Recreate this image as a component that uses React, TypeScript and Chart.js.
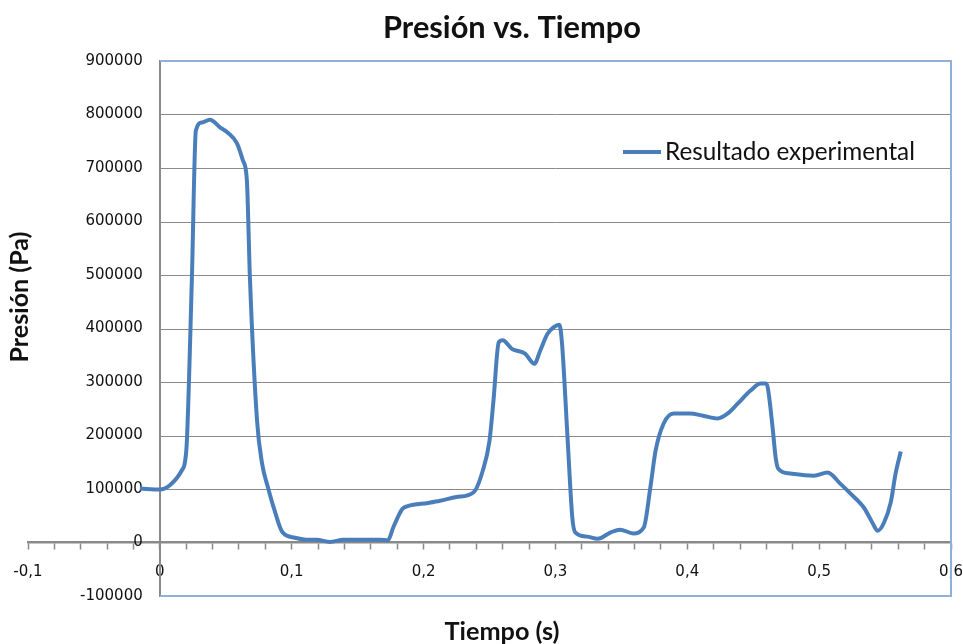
import React, { useEffect, useRef } from 'react';
import { Chart, registerables } from 'chart.js';

Chart.register(...registerables);

// ---- data ----
const timeS = [
  -0.0152, 0, 0.008, 0.0167, 0.019, 0.0205, 0.0243, 0.0273, 0.0319, 0.038,
  0.0456, 0.0516, 0.0585, 0.063, 0.066, 0.0683, 0.0737, 0.0775, 0.082, 0.087,
  0.093, 0.1025, 0.111, 0.119, 0.129, 0.139, 0.167, 0.173, 0.177, 0.184,
  0.188, 0.2035, 0.2126, 0.225, 0.238, 0.245, 0.25, 0.253, 0.257, 0.26,
  0.267, 0.277, 0.284, 0.2885, 0.294, 0.2985, 0.303, 0.305, 0.309, 0.3128,
  0.315, 0.324, 0.332, 0.342, 0.349, 0.359, 0.367, 0.372, 0.376, 0.382,
  0.3897, 0.402, 0.412, 0.423, 0.4305, 0.438, 0.448, 0.4556, 0.4594, 0.461,
  0.4647, 0.467, 0.469, 0.478, 0.496, 0.5065, 0.516, 0.524, 0.534, 0.5406,
  0.5444, 0.549, 0.5543, 0.558, 0.5619,
];
const pressurePa = [
  101000, 99000, 108000, 135000, 150000, 190000, 495000, 770000, 785000, 790000,
  776000, 766000, 746000, 714000, 677000, 495000, 228000, 148000, 103000, 60000,
  19000, 9000, 5000, 5000, 1000, 5000, 5000, 4000, 28000, 63000,
  68000, 74000, 78000, 85000, 94000, 135000, 190000, 265000, 374000, 378000,
  362000, 353000, 334000, 359000, 390000, 402000, 407000, 372000, 204000, 47000,
  19000, 11000, 7000, 19000, 24000, 17000, 28000, 103000, 172000, 222000,
  241000, 241000, 237000, 232000, 241000, 259000, 284000, 297000, 297000, 290000,
  215000, 159000, 138000, 129000, 125000, 131000, 110000, 91000, 65000, 36000,
  22000, 36000, 75000, 129000, 170000,
];

const seriesLabel = 'Resultado experimental';
const chartTitle = 'Presión vs. Tiempo';
const xAxisTitle = 'Tiempo (s)';
const yAxisTitle = 'Presión (Pa)';

const xRange = [-0.1, 0.6];
const yRange = [-100000, 900000];
const xMinorStep = 0.02;
const xLabelStep = 0.1;
const yStep = 100000;

// ---- styles ----
const LINE_BLUE = '#4a7ebb';
const GRID = '#8a8a8a';
const AXIS = '#8a8a8a';
const FRAME = '#8eb0d9';
const TEXT = '#111111';
const TITLE_FONT = 'Lato, "Open Sans", sans-serif';
const TICK_FONT = '"DejaVu Sans", Verdana, sans-serif';
// value-axis labels sit ~17px left of the axis (expressed in x data units)
const Y_LABEL_X = -0.013;

function fitFont(ctx: CanvasRenderingContext2D, text: string, weight: string, family: string, width: number) {
  ctx.font = `${weight} 100px ${family}`;
  const w = ctx.measureText(text).width;
  const size = (100 * width) / w;
  return `${weight} ${size.toFixed(2)}px ${family}`;
}

const excelFrame = {
  id: 'excelFrame',
  beforeDatasetsDraw(chart: any) {
    const { ctx, chartArea, scales } = chart;
    const x = scales.x;
    const y = scales.y;
    const left = Math.round(x.getPixelForValue(0));
    ctx.save();
    ctx.strokeStyle = GRID;
    ctx.lineWidth = 1;
    y.ticks.forEach((t: any) => {
      if (t.value > yRange[0] && t.value < yRange[1] && t.value !== 0) {
        const py = Math.round(y.getPixelForValue(t.value)) + 0.5;
        ctx.beginPath();
        ctx.moveTo(left, py);
        ctx.lineTo(chartArea.right, py);
        ctx.stroke();
      }
    });
    ctx.strokeStyle = FRAME;
    ctx.lineWidth = 2;
    const top = Math.round(y.getPixelForValue(yRange[1]));
    const bottom = Math.round(y.getPixelForValue(yRange[0]));
    const right = Math.round(x.getPixelForValue(xRange[1]));
    ctx.beginPath();
    ctx.moveTo(left, top);
    ctx.lineTo(right, top);
    ctx.lineTo(right, bottom);
    ctx.lineTo(left, bottom);
    ctx.stroke();
    ctx.restore();
  },
  afterDraw(chart: any) {
    const { ctx } = chart;
    ctx.save();
    ctx.fillStyle = TEXT;
    ctx.textAlign = 'center';
    ctx.textBaseline = 'middle';
    ctx.font = fitFont(ctx, chartTitle, 'bold', TITLE_FONT, 258);
    ctx.fillText(chartTitle, 512, 28);
    ctx.font = fitFont(ctx, xAxisTitle, 'bold', TITLE_FONT, 115);
    ctx.fillText(xAxisTitle, 502, 632);
    ctx.save();
    ctx.translate(20, 297);
    ctx.rotate(-Math.PI / 2);
    ctx.font = fitFont(ctx, yAxisTitle, 'bold', TITLE_FONT, 131);
    ctx.fillText(yAxisTitle, 0, 0);
    ctx.restore();
    const ds = chart.data.datasets[0];
    ctx.strokeStyle = ds.borderColor;
    ctx.lineWidth = ds.borderWidth;
    ctx.lineCap = 'butt';
    ctx.beginPath();
    ctx.moveTo(623, 152);
    ctx.lineTo(661, 152);
    ctx.stroke();
    ctx.textAlign = 'left';
    ctx.font = fitFont(ctx, ds.label, 'normal', TITLE_FONT, 250);
    ctx.fillText(ds.label, 665, 152);
    ctx.restore();
  },
};

function fmt(v: number) {
  return String(Math.round(v * 10) / 10).replace('.', ',');
}

export default function App() {
  const canvasRef = useRef<HTMLCanvasElement | null>(null);

  useEffect(() => {
    document.body.style.margin = '0';
    const canvas = canvasRef.current;
    if (!canvas) return;
    const points = timeS.map((t, i) => ({ x: t, y: pressurePa[i] }));
    const tickFont = { family: TICK_FONT, size: 15 };
    const chart = new Chart(canvas, {
      type: 'line',
      data: {
        datasets: [
          {
            label: seriesLabel,
            data: points,
            xAxisID: 'x',
            yAxisID: 'y',
            borderColor: LINE_BLUE,
            backgroundColor: LINE_BLUE,
            borderWidth: 4,
            pointRadius: 0,
            cubicInterpolationMode: 'monotone',
            fill: false,
          },
        ],
      },
      options: {
        animation: false,
        responsive: true,
        maintainAspectRatio: false,
        layout: { padding: { left: 28, right: 12, top: 61, bottom: 48 } },
        plugins: {
          legend: { display: false },
          title: { display: false },
          tooltip: { enabled: false },
        },
        scales: {
          x: {
            type: 'linear',
            min: xRange[0],
            max: xRange[1],
            position: { y: 0 },
            border: { display: true, color: AXIS, width: 2.5 },
            grid: {
              display: true,
              drawOnChartArea: false,
              drawTicks: true,
              tickLength: 6,
              tickColor: AXIS,
              tickWidth: 1.5,
            },
            ticks: {
              stepSize: xMinorStep,
              autoSkip: false,
              maxRotation: 0,
              padding: 0,
              color: TEXT,
              font: { ...tickFont, lineHeight: 3.2 },
              callback: (v: any) => {
                const n = Number(v);
                const k = Math.round(n / xLabelStep);
                return Math.abs(n - k * xLabelStep) < 1e-6 ? fmt(n) : '';
              },
            },
          },
          y: {
            type: 'linear',
            min: yRange[0],
            max: yRange[1],
            position: { x: 0 },
            border: { display: true, color: AXIS, width: 2 },
            grid: { display: true, drawOnChartArea: false, drawTicks: false },
            ticks: { stepSize: yStep, display: false },
          },
          yLabels: {
            type: 'linear',
            min: yRange[0],
            max: yRange[1],
            position: { x: Y_LABEL_X },
            border: { display: false },
            grid: { display: false, drawTicks: false },
            ticks: {
              stepSize: yStep,
              padding: 0,
              color: TEXT,
              font: tickFont,
              callback: (v: any) => String(v),
            },
          },
        },
      },
      plugins: [excelFrame],
    } as any);
    return () => chart.destroy();
  }, []);

  return (
    <div style={{ width: 963, height: 644, position: 'relative', background: '#ffffff' }}>
      <canvas ref={canvasRef} />
    </div>
  );
}
